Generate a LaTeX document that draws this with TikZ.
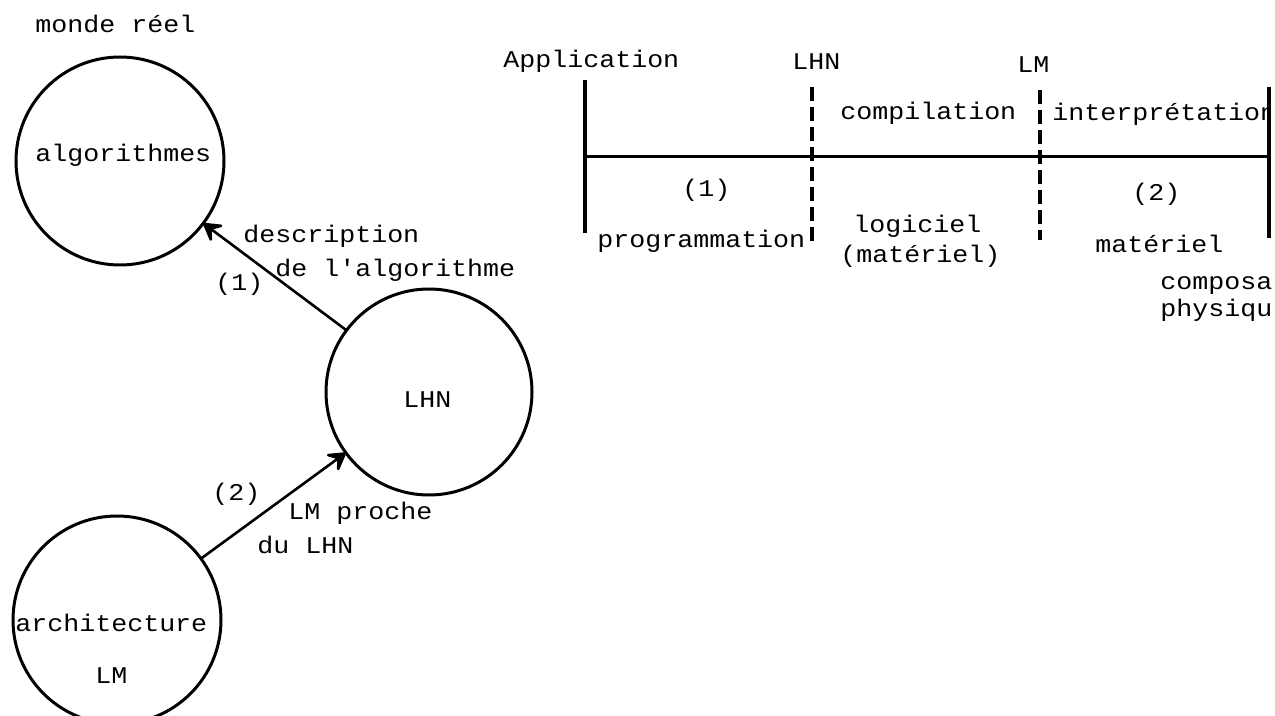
\documentclass[tikz,border=0pt]{standalone}
\usepackage{fontspec}
\setmainfont[FakeStretch=1.11,Ligatures=TeXOff]{Liberation Mono}
\usetikzlibrary{arrows.meta}
\newcommand{\lbfont}{\fontsize{12}{14}\selectfont}
\tikzset{
  lbl/.style={inner sep=0pt, anchor=base west, font=\lbfont},
  circ/.style={circle, draw, line width=1.5pt, inner sep=0pt, outer sep=0pt},
  conn/.style={line width=1.3pt, -{Stealth[length=11pt,width=13pt,inset=5pt,round]}},
  solidbar/.style={line width=2.2pt},
  dashbar/.style={line width=2pt, dash pattern=on 7pt off 3pt},
  axisline/.style={line width=1.5pt}
}
\begin{document}
\begin{tikzpicture}[x=0.5pt,y=-0.5pt]
\useasboundingbox (0,0) rectangle (1275,716);
% left part
\node[lbl] (monde) at (35,33) {monde réel};
\node[circ, minimum size=104pt] (alg) at (120,161) {};
\node[lbl] (algt) at (35,162) {algorithmes};
\node[circ, minimum size=103pt] (lhn) at (429,392) {};
\node[lbl] (lhnt) at (403,408) {LHN};
\node[circ, minimum size=104pt] (arch) at (117,620) {};
\node[lbl] (archt) at (15,632) {architecture};
\node[lbl] (lmt) at (95,683) {LM};
\draw[conn] (lhn) -- (alg);
\draw[conn] (arch) -- (lhn);
\node[lbl] (desc1) at (243,243) {description};
\node[lbl] (desc2) at (275,277) {de l'algorithme};
\node[lbl] (n1) at (215,291) {(1)};
\node[lbl] (n2) at (212,501) {(2)};
\node[lbl] (pr1) at (288,520) {LM proche};
\node[lbl] (pr2) at (257,553) {du LHN};
% right part: timeline
\coordinate (h0) at (585,157);
\coordinate (h1) at (1269,157);
\coordinate (s0t) at (585,80);
\coordinate (s0b) at (585,233);
\coordinate (s1t) at (1269,87);
\coordinate (s1b) at (1269,238);
\coordinate (d0t) at (812,87);
\coordinate (d0b) at (812,243);
\coordinate (d1t) at (1040,90);
\coordinate (d1b) at (1040,240);
\draw[axisline] (h0) -- (h1);
\draw[solidbar] (s0t) -- (s0b);
\draw[dashbar] (d0t) -- (d0b);
\draw[dashbar] (d1t) -- (d1b);
\node[lbl] (app) at (503,68) {Application};
\node[lbl] (tlhn) at (792,70) {LHN};
\node[lbl] (tlm) at (1017,73) {LM};
\node[lbl] (comp) at (840,120) {compilation};
\begin{scope}
\clip (1045,80) rectangle (1268,140);
\node[lbl] (interp) at (1052,121) {interprétation};
\end{scope}
\draw[solidbar] (s1t) -- (s1b);
\node[lbl] (r1) at (682,197) {(1)};
\node[lbl] (prog) at (597,248) {programmation};
\node[lbl] (logi) at (853,233) {logiciel};
\node[lbl] (mat1) at (840,263) {(matériel)};
\node[lbl] (r2) at (1132,201) {(2)};
\node[lbl] (mat2) at (1095,253) {matériel};
\node[lbl] (compo) at (1160,290) {composa};
\node[lbl] (phys) at (1160,317) {physiqu};
\end{tikzpicture}
\end{document}
